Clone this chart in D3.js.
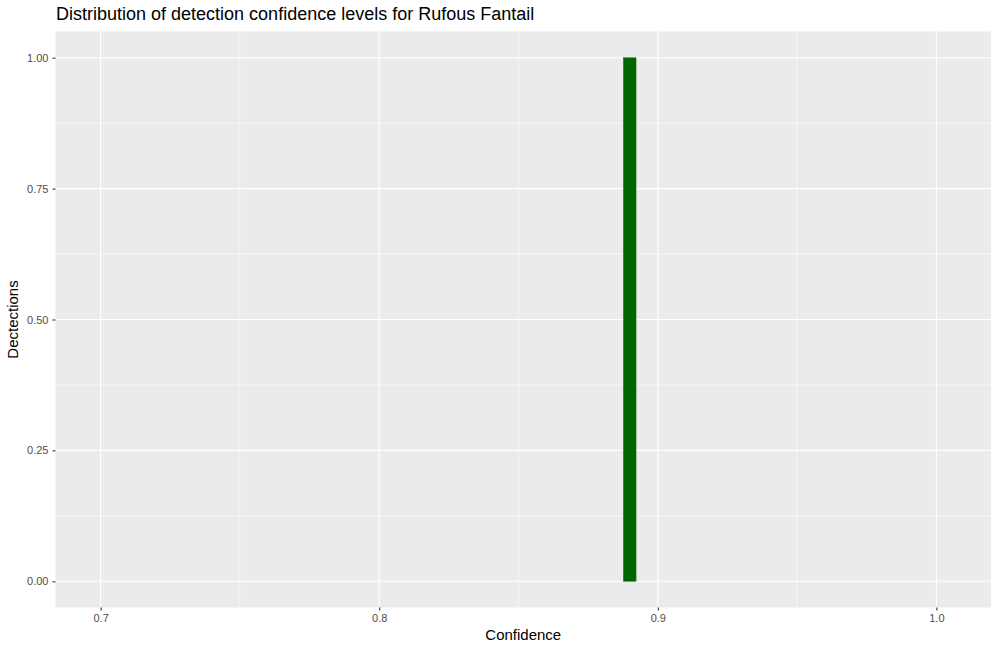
<!DOCTYPE html>
<html><head><meta charset="utf-8">
<script src="https://cdn.jsdelivr.net/npm/d3@7"></script>
<style>body{margin:0;background:#fff}svg{display:block;font-family:"Liberation Sans",Arial,sans-serif}</style>
</head><body><svg id="c" width="1000" height="651"></svg>
<script>
const binStarts = [0.8876];
const binEnds = [0.8922];
const counts = [1];
const xTicks = [0.7, 0.8, 0.9, 1.0];
const xMinor = [0.75, 0.85, 0.95];
const yTicks = [0, 0.25, 0.5, 0.75, 1.0];
const yMinor = [0.125, 0.375, 0.625, 0.875];

const svg = d3.select("#c");
const L = 55.5, R = 991, T = 31.5, B = 607.5;
const x = d3.scaleLinear().domain([0.6838, 1.0196]).range([L, R]);
const y = d3.scaleLinear().domain([-0.05, 1.05]).range([B, T]);
svg.append("rect").attr("x", L).attr("y", T).attr("width", R - L).attr("height", B - T).attr("fill", "#ebebeb");
const g = svg.append("g");
g.selectAll(".xm").data(xMinor).join("line").attr("x1", d => x(d)).attr("x2", d => x(d)).attr("y1", T).attr("y2", B).attr("stroke", "#fff").attr("stroke-width", 0.55);
g.selectAll(".ym").data(yMinor).join("line").attr("y1", d => y(d)).attr("y2", d => y(d)).attr("x1", L).attr("x2", R).attr("stroke", "#fff").attr("stroke-width", 0.55);
g.selectAll(".xM").data(xTicks).join("line").attr("x1", d => x(d)).attr("x2", d => x(d)).attr("y1", T).attr("y2", B).attr("stroke", "#fff").attr("stroke-width", 1.1);
g.selectAll(".yM").data(yTicks).join("line").attr("y1", d => y(d)).attr("y2", d => y(d)).attr("x1", L).attr("x2", R).attr("stroke", "#fff").attr("stroke-width", 1.1);

svg.selectAll(".bar").data(counts).join("rect")
  .attr("x", (d, i) => x(binStarts[i]))
  .attr("width", (d, i) => x(binEnds[i]) - x(binStarts[i]))
  .attr("y", d => y(d)).attr("height", d => y(0) - y(d))
  .attr("fill", "#006400").attr("stroke", "#2e8b2e").attr("stroke-width", 0.5);

const xa = svg.append("g").attr("transform", `translate(0,${B})`)
  .call(d3.axisBottom(x).tickValues(xTicks).tickSize(3).tickPadding(4).tickFormat(d3.format(".1f")));
const ya = svg.append("g").attr("transform", `translate(${L},0)`)
  .call(d3.axisLeft(y).tickValues(yTicks).tickSize(3).tickPadding(4).tickFormat(d3.format(".2f")));
[xa, ya].forEach(a => {
  a.select(".domain").remove();
  a.selectAll(".tick line").attr("stroke", "#333").attr("stroke-width", 1.1);
  a.selectAll(".tick text").attr("fill", "#4d4d4d").style("font-size", "11px").style("font-family", "Liberation Sans, Arial, sans-serif");
});

svg.append("text").attr("x", 56).attr("y", 20).text("Distribution of detection confidence levels for Rufous Fantail")
  .style("font-size", "18px").attr("fill", "#000");
svg.append("text").attr("x", (L + R) / 2).attr("y", 640).attr("text-anchor", "middle").text("Confidence")
  .style("font-size", "15px").attr("fill", "#000");
svg.append("text").attr("transform", `translate(18,${(T + B) / 2}) rotate(-90)`).attr("text-anchor", "middle").text("Dectections")
  .style("font-size", "15px").attr("fill", "#000");
</script></body></html>
